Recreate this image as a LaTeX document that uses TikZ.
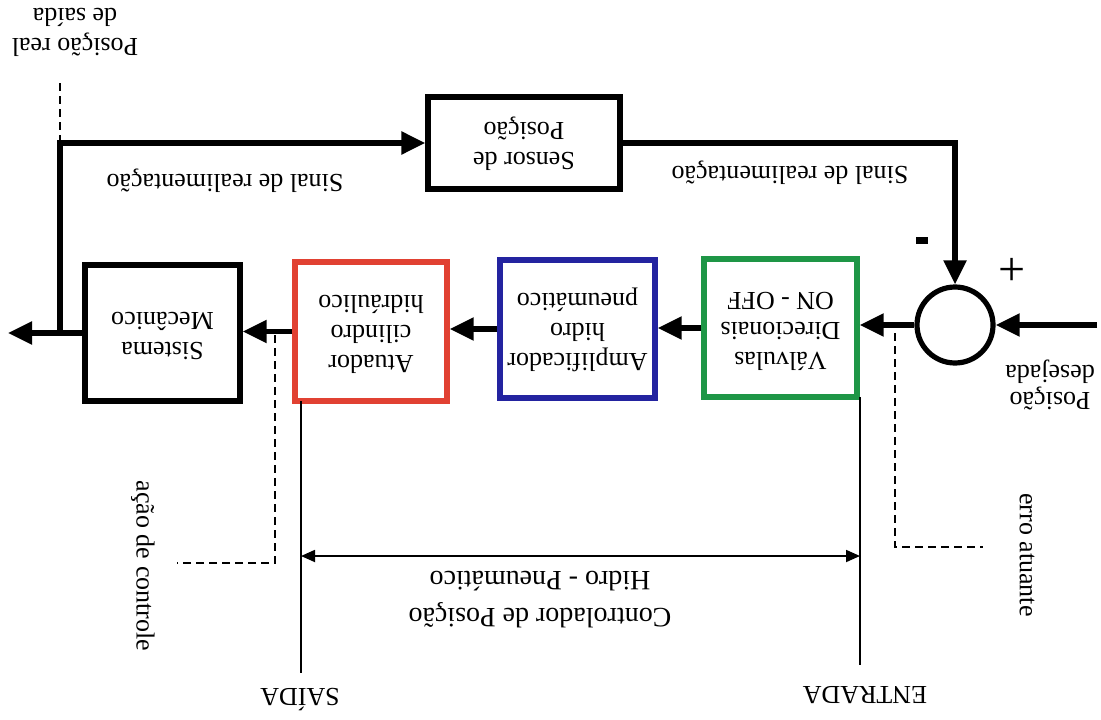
\documentclass[tikz,border=0pt]{standalone}
\usepackage{fontspec}
\setmainfont{Liberation Serif}
\usepackage{graphicx}
\usetikzlibrary{arrows.meta}
\definecolor{bgreen}{RGB}{30,150,70}
\definecolor{bblue}{RGB}{35,35,160}
\definecolor{bred}{RGB}{225,65,50}
\newcommand{\ud}[1]{\rotatebox[origin=c]{180}{\begin{tabular}{@{}c@{}}#1\end{tabular}}}
\begin{document}
\begin{tikzpicture}[x=0.5pt,y=0.5pt,
  font=\fontsize{13}{15}\selectfont,
  box/.style={draw, line width=2.6pt, inner sep=0pt, align=center},
  arr/.style={line width=2.6pt, -{Triangle[length=12pt,width=11pt]}},
  thinline/.style={line width=0.9pt},
  dimline/.style={line width=0.9pt, {Triangle[length=7pt,width=6pt]}-{Triangle[length=7pt,width=6pt]}},
  dashline/.style={line width=0.9pt, dash pattern=on 4pt off 2.5pt},
  lbl/.style={inner sep=0pt}]
\useasboundingbox (0,0) rectangle (1101,719);
% blocks
\node[box, minimum width=96pt, minimum height=46pt] (sens) at (524,576) {\ud{Sensor de\\Posição}};
\node[box, minimum width=77.5pt, minimum height=68pt] (sist) at (162.5,386) {\ud{Sistema\\Mecânico}};
\node[box, draw=bred, minimum width=76pt, minimum height=69.5pt] (atu) at (371,387.5) {\ud{Atuador\\cilindro\\hidráulico}};
\node[box, draw=bblue, minimum width=77.5pt, minimum height=69pt] (amp) at (577.5,390) {\ud{Amplificador\\hidro\\pneumático}};
\node[box, draw=bgreen, minimum width=76.5pt, minimum height=69pt] (val) at (780.5,391) {\ud{Válvulas\\Direcionais\\ON - OFF}};
\node[draw, circle, line width=2.6pt, minimum size=38pt, inner sep=0pt] (sum) at (955,394) {};
% signs
\node[fill, minimum width=6pt, minimum height=3.5pt, inner sep=0pt] (minus) at (922,479) {};
\node[lbl] (plus) at (1012,447) {\fontsize{24}{24}\selectfont +};
% coordinates
\coordinate (out) at (8,386);
\coordinate (fb) at (60,386);
\coordinate (in) at (1097,394);
% main chain
\draw[arr] (in) -- (sum.east);
\draw[arr] (sum.west) -- (sum.west -| val.east);
\draw[arr] (val.west) -- (val.west -| amp.east);
\draw[arr] (amp.west) -- (amp.west -| atu.east);
\draw[arr] (atu.west) -- (atu.west -| sist.east);
\draw[arr] (sist.west) -- (out);
% feedback
\draw[arr] (fb) |- (sens.west);
\draw[arr] (sens.east) -| (sum.north);
% dashed pointers
\coordinate (pr1) at (60,576);
\coordinate (pr2) at (60,636);
\draw[dashline] (pr1) -- (pr2);
\coordinate (dc1) at (275,384);
\coordinate (dc2) at (177,156);
\draw[dashline] (dc1) |- (dc2);
\coordinate (ea1) at (895,386);
\coordinate (ea2) at (983,172);
\draw[dashline] (ea1) |- (ea2);
% controller span
\coordinate (sa1) at (301,318);
\coordinate (sa2) at (301,46);
\coordinate (en1) at (860,322);
\coordinate (en2) at (860,54);
\draw[thinline] (sa1) -- (sa2);
\draw[thinline] (en1) -- (en2);
\coordinate (da1) at (301,163);
\coordinate (da2) at (860,163);
\draw[dimline] (da1) -- (da2);
% labels
\node[lbl] (preal) at (75,689) {\ud{Posição real\\de saída}};
\node[lbl] (sinal1) at (225,539) {\ud{Sinal de realimentação}};
\node[lbl] (sinal2) at (790,547) {\ud{Sinal de realimentação}};
\node[lbl] (pdes) at (1050,335) {\fontsize{13}{13.5}\selectfont\ud{Posição\\desejada}};
\node[lbl, rotate=-90] (acao) at (143,153) {ação de controle};
\node[lbl, rotate=-90] (erro) at (1027,164) {erro atuante};
\node[lbl] (ctrl) at (540,122) {\fontsize{14}{18.5}\selectfont\ud{Controlador de Posição\\Hidro - Pneumático}};
\node[lbl] (saida) at (300,24) {\ud{SAÍDA}};
\node[lbl] (entrada) at (865,27) {\ud{ENTRADA}};
\end{tikzpicture}
\end{document}
